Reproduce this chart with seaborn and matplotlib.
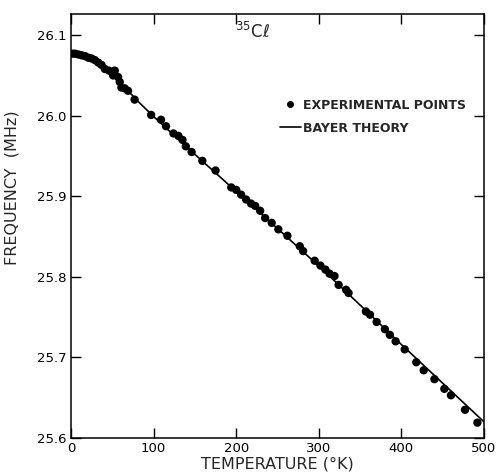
import pandas as pd
import seaborn as sns
import matplotlib
matplotlib.use("Agg")
import matplotlib.pyplot as plt
from matplotlib.lines import Line2D

# experimental points
temp_pts = [2, 5, 9, 13, 17, 21, 25, 29, 33, 37,
            41, 46, 51, 53, 57, 59, 61, 65, 69, 77,
            97, 109, 115, 124, 130, 135, 139, 146, 159, 175,
            194, 200, 206, 212, 218, 223, 229, 235, 243, 251,
            262, 277, 281, 295, 302, 308, 313, 319, 324, 333,
            336, 357, 362, 370, 380, 386, 393, 404, 418, 427,
            440, 452, 460, 477, 492]
freq_pts = [26.077, 26.077, 26.076, 26.075, 26.074, 26.072, 26.071, 26.069, 26.066, 26.063,
            26.058, 26.056, 26.050, 26.056, 26.048, 26.042, 26.035, 26.034, 26.031, 26.020,
            26.001, 25.995, 25.987, 25.978, 25.975, 25.970, 25.962, 25.955, 25.944, 25.932,
            25.911, 25.908, 25.902, 25.896, 25.891, 25.888, 25.882, 25.873, 25.867, 25.859,
            25.851, 25.838, 25.832, 25.820, 25.814, 25.809, 25.804, 25.801, 25.790, 25.784,
            25.780, 25.757, 25.753, 25.744, 25.735, 25.728, 25.720, 25.710, 25.694, 25.684,
            25.673, 25.661, 25.653, 25.635, 25.619]

# Bayer theory curve
temp_th = [0, 10, 20, 30, 40, 50, 60, 70, 80, 90, 100, 150, 200, 250, 300, 350, 400, 450, 500]
freq_th = [26.077, 26.076, 26.073, 26.068, 26.061, 26.052, 26.041, 26.030, 26.019, 26.009,
           25.999, 25.952, 25.906, 25.860, 25.8135, 25.765, 25.716, 25.668, 25.620]

x_ticks = [0, 100, 200, 300, 400, 500]
y_ticks = [25.6, 25.7, 25.8, 25.9, 26.0, 26.1]
y_labels = ["25.6", "25.7", "25.8", "25.9", "26.0", "26.1"]

pts = pd.DataFrame({"T": temp_pts, "f": freq_pts})
th = pd.DataFrame({"T": temp_th, "f": freq_th})

sns.set_style("ticks")
plt.rcParams["font.family"] = ["DejaVu Sans"]

fig = plt.figure(figsize=(5, 4.74), dpi=100)
ax = fig.add_axes([0.142, 0.076, 0.826, 0.894])

sns.lineplot(data=th, x="T", y="f", color="black", linewidth=1.2, ax=ax)
sns.scatterplot(data=pts, x="T", y="f", color="black", s=36, edgecolor="none", ax=ax)

ax.set_xlim(0, 500)
ax.set_ylim(25.6, 26.126)
ax.set_xticks(x_ticks)
ax.set_yticks(y_ticks)
ax.set_yticklabels(y_labels)
ax.tick_params(direction="in", length=7, width=1, top=True, right=True,
               labelsize=9.5, pad=3, colors="black")
for s in ax.spines.values():
    s.set_linewidth(1.1)
    s.set_color("black")

ax.set_xlabel("TEMPERATURE (°K)", fontsize=11.5, labelpad=1)
ax.set_ylabel("FREQUENCY  (MHz)", fontsize=11.5)
ax.yaxis.set_label_coords(-0.125, 0.59)

ax.text(198, 26.104, r"$^{35}$C$\ell$", fontsize=12, ha="left", va="center")

handles = [Line2D([], [], marker="o", color="black", linestyle="none", markersize=4),
           Line2D([], [], color="black", linewidth=1.2)]
ax.legend(handles, ["EXPERIMENTAL POINTS", "BAYER THEORY"], loc="upper left",
          bbox_to_anchor=(0.49, 0.815), frameon=False,
          prop={"size": 9, "weight": "bold"},
          handlelength=1.7, handletextpad=0.2, labelspacing=0.8, borderpad=0)

fig.savefig("out.png", dpi=100)
